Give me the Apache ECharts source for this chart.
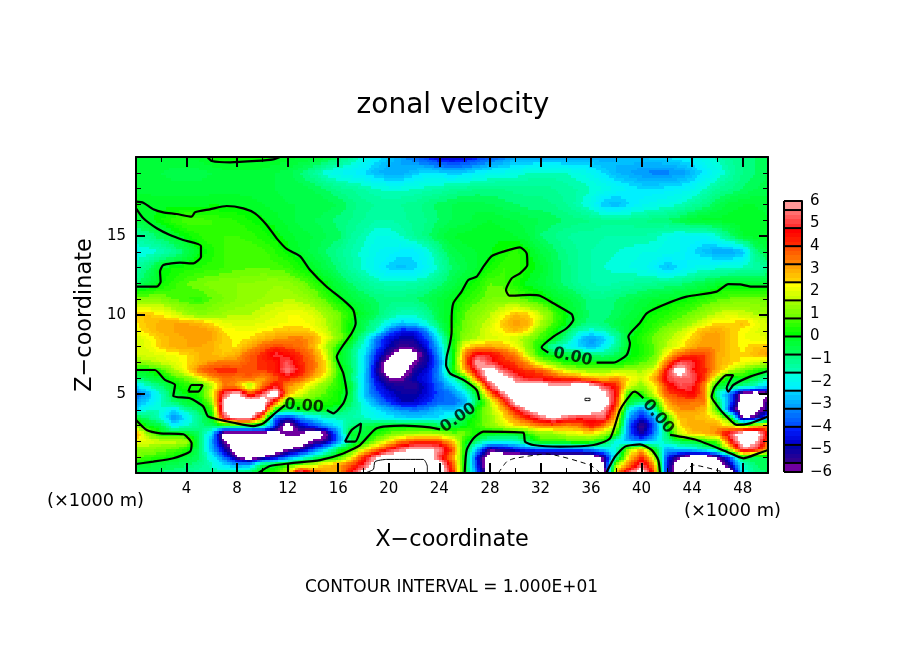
<!DOCTYPE html>
<html>
<head>
<meta charset="utf-8">
<style type="text/css">
html,body{margin:0;padding:0;background:#fff}
#main{width:904px;height:654px}
</style>
</head>
<body>
<div id="main"></div>
<script src="https://cdn.jsdelivr.net/npm/echarts@6/dist/echarts.min.js"></script>
<script type="text/javascript">
// x nodes every 1 km, z nodes listed top row first
var xNodes = [0,1,2,3,4,5,6,7,8,9,10,11,12,13,14,15,16,17,18,19,20,21,22,23,24,25,26,27,28,29,30,31,32,33,34,35,36,37,38,39,40,41,42,43,44,45,46,47,48,49,50];
var zNodes = [20,19,18,17,16,15,14,13,12,11,10,9.5,9,8.5,8,7.5,7,6.5,6,5.5,5,4.5,4,3.5,3,2.5,2,1.5,1,0.5,0];
// zonal velocity, one row per z node (+-7 = off the scale, drawn white)
var velocityRows = [
[-.2,-.2,-.2,-.2,-.2,-.1,.1,.2,.2,.2,.1,0,-.1,-.2,-.2,-.3,-.8,-1.2,-1.8,-2.2,-2.6,-3,-3.5,-4,-4.6,-4.8,-4.6,-4.2,-3.8,-3.4,-3,-3,-3,-3,-3,-3,-3,-3,-2.8,-2.6,-2.6,-2.5,-2.4,-2.2,-2,-1.8,-1.5,-1.2,-1,-.8,-.6],
[-.3,-.4,-.4,-.5,-.5,-.5,-.4,-.3,-.3,-.3,-.3,-.4,-.5,-.8,-1.2,-1.8,-2,-2.2,-2.4,-2.8,-3,-3,-2.6,-2.3,-2.4,-2.6,-2.5,-2.2,-2,-1.9,-1.8,-1.6,-1.5,-1.5,-1.6,-1.8,-2,-2.4,-2.8,-3,-3.2,-3.3,-3.3,-3.2,-2.8,-2.3,-1.9,-1.4,-1,-.8,-.6],
[-.3,-.3,-.3,-.3,-.3,-.3,-.3,-.3,-.3,-.3,-.3,-.4,-.5,-.5,-.6,-.8,-1.1,-1.2,-1.4,-1.6,-1.7,-1.7,-1.6,-1.5,-1.4,-1.2,-1.1,-1,-1,-1,-1.1,-1.1,-1.1,-1.2,-1.3,-1.4,-1.6,-1.8,-2,-2.2,-2.4,-2.4,-2.3,-2.2,-2,-1.6,-1.2,-1,-.8,-.6,-.5],
[.05,-.05,-.1,-.1,-.1,-.1,-.05,-.05,-.05,-.1,-.2,-.3,-.4,-.4,-.4,-.5,-.6,-.9,-1.1,-1.2,-1.3,-1.2,-1.1,-.9,-.7,-.6,-.5,-.5,-.6,-.7,-.8,-.9,-.9,-1,-1.2,-1.5,-1.9,-2.6,-2.8,-2.4,-2.1,-1.9,-1.8,-1.6,-1.3,-1,-.6,-.3,-.2,-.2,-.3],
[-.4,-.1,.2,.5,.8,.7,.6,.5,.4,.2,.05,-.1,-.3,-.5,-.6,-.7,-.9,-1,-1.2,-1.4,-1.4,-1.3,-1.1,-1,-.8,-.6,-.5,-.3,-.2,-.3,-.4,-.5,-.6,-.7,-.8,-.9,-1,-1.1,-1.1,-1.1,-1,-.9,-.8,-.5,-.2,-.1,-.1,-.1,-.1,-.1,-.15],
[-1.3,-1,-.6,-.2,.1,.4,.6,.6,.6,.5,.3,.1,-.1,-.3,-.4,-.6,-.7,-1.2,-1.5,-1.8,-1.8,-1.6,-1.2,-.9,-.5,-.2,-.1,-.05,-.05,-.1,-.2,-.4,-.8,-1,-1.2,-1.3,-1.3,-1.4,-1.4,-1.4,-1.4,-1.5,-1.8,-2,-2,-2.1,-1.6,-.8,-.2,-.1,-.1],
[-1.9,-1.8,-1.6,-1.2,-.6,0,.3,.6,.8,.8,.7,.4,.1,-.2,-.5,-.8,-1.1,-1.4,-1.7,-2,-2.1,-2.3,-2.3,-1.9,-1.1,-.5,-.3,-.2,-.05,.2,.5,.1,-.4,-.7,-1,-1.2,-1.4,-1.5,-1.6,-1.7,-1.8,-1.8,-1.9,-2,-2.4,-2.7,-3,-3.1,-2.7,-1,-.4],
[-1.4,-.8,0,.2,.3,.4,.5,.6,.7,.8,.8,.7,.6,.2,-.1,-.5,-.9,-1.3,-1.7,-2.1,-2.5,-2.7,-2.5,-2.1,-1.5,-.8,-.5,-.2,.2,.6,.6,.2,-.1,-.6,-.9,-1.2,-1.4,-1.6,-1.7,-1.8,-1.9,-2.2,-2.7,-2.4,-2,-1.8,-1.7,-1.6,-1.5,-1.4,-1.2],
[-.8,-.4,.1,.5,.8,1,1.1,1.2,1.2,1.2,1.3,1.4,1.3,1,.6,.1,-.4,-.8,-1.1,-1.4,-1.5,-1.5,-1.4,-1.2,-.9,-.5,-.1,.3,.8,.7,.3,-.1,-.3,-.6,-.9,-1.2,-1.4,-1.5,-1.4,-1.3,-1.2,-1.1,-1,-.9,-.7,-.5,-.2,-.1,-.1,-.2,-.2],
[1.2,1.2,1.1,.8,.6,.5,.8,1,1.2,1.3,1.4,1.5,1.6,1.5,1.2,.7,.1,-.3,-.6,-.8,-.9,-.9,-.8,-.6,-.3,-.05,.4,.7,1,1.1,1,.6,.3,-.05,-.3,-.6,-1,-1,-.8,-.6,-.4,-.2,-.15,.05,.2,.5,.7,.9,1.1,1,.9],
[2.6,2.6,2.4,2,1.5,1.2,1.3,1.5,1.6,1.6,1.8,2,2.2,2.2,2,1.5,1,.3,-.2,-.7,-1.2,-1.6,-1.6,-1.2,-.4,.05,.8,1.2,1.6,2.2,2.8,2.6,1.8,.8,.05,-.4,-.9,-.9,-.7,-.4,-.1,.2,.4,.7,1,1.4,1.8,2,1.8,1.6,1.4],
[2.4,2.7,2.9,3,3,2.8,2.4,2,1.9,1.9,2,2.1,2.2,2.3,2.1,1.6,.9,.1,-.6,-1.2,-2,-2.6,-2.4,-1.6,-.6,.2,.9,1.4,1.8,2.6,3.2,2.9,1.6,.7,.05,-.6,-1,-.8,-.5,-.2,.1,.4,.7,1,1.5,2,2.5,2.4,2.7,2.2,1.8],
[2.2,2.6,2.9,3,3.2,3.2,3,2.4,2.2,2.2,2.3,2.5,2.7,2.6,2.4,1.8,1,.1,-.6,-1.5,-3.4,-4.3,-4.3,-3.2,-1.2,.4,1,1.5,2,2.4,2.8,2.4,1,.3,-.5,-1.4,-1.8,-1.5,-.8,-.2,.2,.6,1.2,1.6,2.2,2.9,3,2.6,2.3,2,1.8],
[1.8,2.2,2.6,2.9,3,3.2,3,2.5,2.3,2.4,2.8,3.1,3.3,3.4,3.1,2.2,1.2,.2,-1.5,-3.4,-4.6,-5,-5,-4,-2,.05,1.2,1.6,1.9,2,1.8,1.2,.6,.05,-1,-2.4,-3.3,-2.6,-1.4,-.1,.4,.9,1.5,2,2.6,3.1,3.1,2.6,2.2,2.1,2],
[1.8,2.1,2.6,2.9,3,3,2.9,2.4,2.4,3,3.6,4.1,3.8,3.5,2.9,1.6,.3,-.6,-1.8,-3.6,-4.8,-5.6,-5.4,-4.4,-2.6,.05,2.4,3,3,2.8,2.2,1.2,.05,-1.5,-1.8,-2.4,-3,-2.2,-1.2,-.1,.3,.8,1.6,2.2,2.9,3.2,3.1,2.6,2.3,2.6,2.8],
[1.8,1.9,2,2.2,2.4,2.8,2.8,2.6,3,3.8,4.2,5,4.6,4.1,3.4,2,.05,-.8,-2.2,-4.2,-5.6,-7,-6.5,-5,-3,-.3,3.4,5,4.8,4,3.4,1.7,.3,-.05,-.3,-.5,-.8,-1,-.6,-.05,.3,.8,2.4,3.6,4.2,4,3,2.6,2.4,2.8,3.1],
[1.2,1.5,1.8,2,2.4,2.8,3.2,3.4,3.4,3.8,4.1,4.4,5.2,4.2,3.6,2.4,.05,-.7,-2.2,-4.6,-6.5,-7,-5.8,-5,-3.4,-.3,3.6,6,5,4.2,4,3,1.5,.8,.2,.1,.05,.05,-.05,.3,.7,1.2,3.4,5.2,5,4,3,2.6,2.3,2,1.6],
[.05,.05,.5,1.5,2.4,3.6,4.1,4.3,4.1,4,4,4.4,5.8,4.5,3.5,2.4,.6,-.6,-2.2,-5,-7,-7,-5.2,-4.6,-3.2,.05,3,5.2,7,5.2,4.4,4,3.8,2.8,1.8,1.4,1.2,1.2,1.4,1.5,1.5,2,4.6,7,4.8,4.2,3,1.8,1,.4,.1],
[-.8,-.4,-.1,.5,1,2,3,3.6,3.4,3.7,3,3.8,4.3,3.8,2.8,1.8,.4,-.7,-2.6,-4.6,-5.8,-5.8,-4.8,-4.4,-3.2,-1.6,.05,4,6.5,7,5.4,4.6,4.4,4.2,4,3.6,3,2.6,3.2,2.4,1.8,3,5,5.4,5.4,4,1.5,-.3,.2,-.5,-1.5],
[-2.4,-1.5,-.8,-.05,.4,.4,1.5,3.5,3,1.2,3.4,4.8,3.2,2.6,1.8,1,.4,-.2,-2.4,-4.2,-5,-5.2,-5.4,-4.6,-3.6,-2.6,-1.2,1.2,5.2,7,6.5,7,7,6,6,7,6.5,5.2,4.4,2,1.2,2.2,4.2,5.2,5,3.2,-.1,-.6,-1,-1.5,-2.6],
[-3.6,-2.8,-1.6,-.2,.05,.3,2,5.2,6.5,4,5.2,7,3,2,1.2,.7,.2,-.5,-2.6,-3.8,-4.6,-5,-5,-4.6,-3.8,-3.4,-2.4,-.05,3.2,5.6,7,7,7,7,7,7,7,6.5,4.5,.3,.4,2,3.8,4.2,4.8,3.4,-1.5,-3.5,-6.5,-7,-6],
[-3,-2.4,-1.6,-.8,-.2,-.05,1.2,6.5,7,7,7,4,.05,.5,.6,.4,.2,-.6,-2,-3.2,-4,-4.8,-4.8,-4.2,-3.6,-3.6,-3,-.5,1.5,3.8,6.5,7,7,7,7,7,7,7,4.2,-.2,-1,.05,3,3.6,3.4,3.4,-.3,-3.6,-7,-7,-5.4],
[-2.4,-1.6,-1.6,-2.4,-1.2,-.6,.4,6.5,7,7,6.5,.3,-.5,-.1,-.05,-.05,-.5,-1.1,-1.7,-2.2,-2.8,-3.2,-3.4,-3.2,-2.6,-2.8,-2,.4,1.4,2.8,4.5,6,7,7,7,7,7,6,3.6,-2,-3.6,-1.5,2.4,3.2,3.2,2.8,.6,-4.5,-7,-6.5,-5.2],
[-.3,-.9,-1.8,-3.4,-2.2,-1,.05,5.2,6.5,6.5,3,-3.8,-4.4,-3.2,-2.4,-1.6,-1.4,-1.4,-1.6,-2,-2.2,-2.4,-2.6,-2.4,-2.4,-1.6,-.3,.4,1.2,2.2,3.4,4.4,5.4,6.2,5.4,5,5,5.4,2.6,-3,-4.5,-3,.2,2.8,2.8,2.6,2.2,.4,-6.2,-5.5,-3.4],
[1,-.05,-.4,-2.2,-1.6,-1,-.7,-.3,-.1,-.1,-.6,-4.2,-7,-4.8,-4,-3,-2.2,-1,-.5,-.3,-.1,-.05,-.1,-.2,-.6,-.3,-.1,.6,1.2,1.8,2.4,2.8,3.4,3.6,3.2,3.4,4.6,3.4,1.8,-3.6,-5.8,-3.8,0,2.4,3,3,3,2.2,1,2.4,3.2],
[3,1.2,.05,-.05,-.05,-.8,-2.4,-7,-7,-7,-7,-6.5,-5.6,-5.8,-7,-6,-3.2,.05,-.4,.3,.9,1.2,1.4,1.6,1.4,1,1,.1,-.1,-.2,-.2,.3,1.2,1.2,1.8,2,2.2,1.6,.5,-3.6,-5.2,-3.4,-.8,1.8,2.6,2.8,3.4,5.2,7,7,4.6],
[2.2,2,1.8,1.8,1.6,-.6,-3,-6,-7,-7,-7,-7,-7,-7,-5.8,-5.4,-3.4,-.8,.05,1.2,2.2,3.4,3.8,4,3.8,2.8,.3,-.8,-1.6,-1.8,-1.6,-.5,.5,.6,.6,.8,.6,-.05,-2,-3,-3.4,-2.4,-1.2,-.4,-.2,.3,.8,4.4,7,6.5,3.6],
[1.2,1.2,1,.8,.3,-.7,-2.8,-4.8,-7,-7,-7,-7,-6,-5.4,-4,-2.4,-.4,.4,2,3.2,4.6,5.6,6.2,6.2,5.8,4,.05,-2.8,-5.5,-5,-4.4,-3.8,-3.5,-3.5,-3.5,-3.5,-3.2,-2.4,-1.8,1.4,2.8,.05,-3,-2.6,-2.2,-1.6,-.7,2,5.6,5,3],
[.9,.6,.4,.05,-.3,-.8,-2,-3.6,-5.8,-7,-6,-5,-3.6,-2.4,-1.2,-.2,.3,2,4.2,6,7,7,7,7,5,3.2,.05,-4.5,-7,-7,-7,-7,-7,-7,-7,-7,-7,-5.5,-1.5,2.4,4.4,1.6,-4,-5.8,-7,-7,-6,-3.6,-.2,-.6,-.6],
[-.3,-.3,-.5,-.6,-.8,-1,-1.6,-2.4,-3,-2.8,-.3,-.05,.6,1.2,1.8,2.6,3,3.8,5,7,7,7,7,7,7,4,.05,-4.4,-7,-7,-7,-7,-7,-7,-7,-7,-7,-6,1.4,3.4,5.4,3,-4.4,-7,-7,-7,-7,-5,-1.8,-.8,-.6],
[-.6,-.6,-.8,-1,-1.1,-1.4,-1.2,-1.4,-1.2,-.6,.1,.4,1.6,6,4,3,3,4.6,6.5,7,7,7,7,7,7,4.6,.05,-3.6,-7,-7,-7,-7,-7,-7,-7,-7,-7,-7,3,5.5,7,4,-4.6,-7,-7,-7,-7,-7,-2,-1,-.8]
];

// zero contour as [x, z] in km
var zeroLines = [
[[0,17.17],[.58,17.11],[1.37,16.69],[2.16,16.5],[3.22,16.39],[4.4,16.22],[4.67,16.5],[5.85,16.69],[7.17,16.9],[8.49,16.75],[9.41,16.43],[10.34,15.7],[11.13,14.85],[11.92,14.18],[12.97,13.73],[13.77,12.85],[15.08,11.79],[16.4,10.95],[17.19,10.32],[17.38,9.47],[17.06,8.84],[16.4,8.1],[15.88,7.36],[16.4,6.31],[16.67,5.04],[16.4,4.41],[15.61,3.78],[15.1,3.99]],
[[11.79,4.3],[11,3.78],[10.07,3.14],[9.28,2.97],[7.96,3.14],[5.72,3.57],[5.33,4.2],[4.27,4.73],[2.95,4.87],[3.09,5.57],[2.29,5.89],[1.5,6.52],[0,6.52]],
[[0,16.75],[.58,16.12],[1.64,15.49],[2.69,15.06],[3.74,14.75],[5.14,14.37],[5.14,13.69],[4.54,13.27],[3.48,13.31],[2.16,13.16],[1.9,12.74],[1.95,12.11],[1.64,11.79],[0,11.79]],
[[5.65,20],[5.99,19.75],[7.44,19.66],[9.55,19.75],[10.86,19.85],[11.39,20]],
[[4.14,5.15],[4.4,5.57],[5.27,5.57],[4.93,5.15],[4.14,5.15]],
[[0,3.35],[.84,2.72],[1.9,2.51],[3.74,2.45],[4.4,1.88],[4.27,1.35],[2.95,.93],[1.37,.72],[0,.57]],
[[16.53,1.98],[17.06,2.72],[17.8,3.14],[17.72,2.62],[17.33,1.98],[16.53,1.98]],
[[9.68,0],[10.6,.44],[12.18,.61],[14.56,.82],[16.4,1.24],[17.72,1.77],[19.04,2.83],[21.15,3],[23.26,2.89],[24.05,2.76]],
[[27.16,4.62],[26.95,5.25],[25.9,5.89],[24.84,6.31],[24.53,6.84],[24.58,7.36],[24.84,8.21],[24.97,8.95],[24.97,9.68],[25.1,10.74],[25.76,11.48],[26.29,12.22],[26.95,12.43],[27.48,13.06],[28.14,13.73],[29.06,14.01],[30.38,14.28],[30.91,13.9],[30.96,13.16],[30.38,12.64],[29.72,12.32],[29.27,11.58],[29.53,11.22],[31.17,11.27],[31.96,11.22],[33.02,10.74],[34.47,10.05],[34.6,9.7],[34.07,9.16],[33.02,8.63],[32.09,7.95],[32.62,7.62]],
[[36.44,6.98],[37.76,6.98],[38.82,7.47],[39.08,8.21],[38.95,8.63],[39.87,9.5],[40.4,10.1],[41.72,10.63],[43.56,11.16],[45.94,11.48],[46.86,11.96],[47.79,11.94],[48.71,11.79],[50,11.79]],
[[26,0],[26.16,1.46],[26.69,2.19],[27.48,2.62],[30.64,2.55],[30.78,1.98],[31.44,1.77],[33.55,1.67],[36.2,1.77],[37.5,2.19],[38.29,3.99],[39.21,5.04],[39.48,5.15],[40.14,4.73]],
[[42.25,2.41],[44.36,2.09],[46.73,1.35],[48.05,.93],[49.24,1.24],[50,1.46]],
[[37.2,0],[37.9,1.03],[38.69,1.67],[39.87,1.81],[40.79,1.46],[41.32,.82],[41.45,0]],
[[50,6.46],[48.58,6.1],[47.25,5.57],[46.86,5.15],[46.73,5.36],[47.25,6.2],[46.73,6.2],[45.81,5.46],[45.54,4.83],[45.94,4.3],[46.6,3.67],[47.52,3.04],[48.58,3.14],[50,3.57]]
];
// thin contours at the +60 and -60 levels
var highLines = [
[[18.12,0],[18.78,.23],[18.91,.72],[19.83,.86],[22.73,.86],[23.05,.4],[23.05,0]],
[[35.52,4.73],[35.92,4.73],[35.92,4.58],[35.52,4.58],[35.52,4.73]]
];
var lowLines = [
[[28.67,0],[29.33,.72],[29.98,.93],[32.49,1.2],[35.92,.5],[36.71,0]],
[[43.3,0],[44.1,.5],[46.73,0]]
];
var labelX = [13.3, 25.5, 34.55, 41.3];
var labelZ = [4.24, 3.48, 7.34, 3.57];
var labelAngle = [-5, 35, -12, -50];

var colorbarTicks = [-6,-5,-4,-3,-2,-1,0,1,2,3,4,5,6];
var colorbarEdges = [-6,-5.6,-4.8,-4,-3.2,-2.4,-1.6,-.8,0,.8,1.6,2.4,3.2,4,4.8,5.6,6];
// first and last shade of each band, from -6 upward
var bandColors = [
['#7000a0','#7000a0'],['#300090','#0000a8'],['#0000d0','#0020ff'],['#0050ff','#0080ff'],
['#00a0ff','#00d0ff'],['#00f0ff','#00ffe0'],['#00ffb0','#00ff80'],['#00ff58','#00ff28'],
['#00ff00','#40ff00'],['#70ff00','#a0ff00'],['#c8ff00','#ffff00'],['#ffd000','#ffa000'],
['#ff8000','#ff5000'],['#ff2800','#ff0000'],['#ff3030','#ff7070'],['#ff9898','#ff9898']
];

function hexToRgb(h){
    return [parseInt(h.substr(1,2),16),parseInt(h.substr(3,2),16),parseInt(h.substr(5,2),16)];
}
// 4 flat shades inside every band, white beyond the scale
function colorOf(v){
    if (v <= -6 || v >= 6) return '#ffffff';
    var b = 0;
    while (v >= colorbarEdges[b+1]) b++;
    var f = (v-colorbarEdges[b])/(colorbarEdges[b+1]-colorbarEdges[b]);
    var step = Math.min(3,Math.floor(f*4))/3;
    var lo = hexToRgb(bandColors[b][0]), hi = hexToRgb(bandColors[b][1]);
    return 'rgb('+Math.round(lo[0]+(hi[0]-lo[0])*step)+','+Math.round(lo[1]+(hi[1]-lo[1])*step)+','+Math.round(lo[2]+(hi[2]-lo[2])*step)+')';
}

// one item per grid cell: its corners and the four values there
var cells = [];
for (var r=0;r<zNodes.length-1;r++){
    for (var c=0;c<xNodes.length-1;c++){
        cells.push([xNodes[c],zNodes[r+1],xNodes[c+1],zNodes[r],
            velocityRows[r+1][c],velocityRows[r+1][c+1],velocityRows[r][c],velocityRows[r][c+1]]);
    }
}
// shade a cell in small pixel blocks between its corner values
function renderCell(params,api){
    var p0 = api.coord([api.value(0),api.value(1)]);
    var p1 = api.coord([api.value(2),api.value(3)]);
    var vbl=api.value(4),vbr=api.value(5),vtl=api.value(6),vtr=api.value(7);
    var nx = Math.max(1,Math.round((p1[0]-p0[0])/2.5));
    var ny = Math.max(1,Math.round((p0[1]-p1[1])/2.5));
    var kids = [];
    for (var i=0;i<nx;i++){
        var xa=Math.round(p0[0]+(p1[0]-p0[0])*i/nx), xb=Math.round(p0[0]+(p1[0]-p0[0])*(i+1)/nx);
        var tx=(i+.5)/nx;
        for (var j=0;j<ny;j++){
            var ya=Math.round(p1[1]+(p0[1]-p1[1])*j/ny), yb=Math.round(p1[1]+(p0[1]-p1[1])*(j+1)/ny);
            var ty=(j+.5)/ny;
            var v=(vtl*(1-tx)+vtr*tx)*(1-ty)+(vbl*(1-tx)+vbr*tx)*ty;
            kids.push({type:'rect',shape:{x:xa,y:ya,width:xb-xa,height:yb-ya},style:{fill:colorOf(v)}});
        }
    }
    return {type:'group',children:kids};
}

var fieldFont = 'DejaVu Sans';
var series = [{
    type:'custom',
    renderItem:renderCell,
    data:cells,
    encode:{x:[0,2],y:[1,3]},
    xAxisIndex:0,yAxisIndex:0,
    silent:true,
    progressive:0,
    z:1
}];
function addLines(list,width,dash){
    list.forEach(function(line){
        series.push({
            type:'line',data:line,xAxisIndex:0,yAxisIndex:0,
            symbol:'none',silent:true,z:3,smooth:0.2,
            lineStyle:{color:'#000',width:width,type:dash}
        });
    });
}
addLines(zeroLines,2.2,'solid');
addLines(highLines,1,'solid');
addLines(lowLines,1,[5,4]);

series.push({
    type:'scatter',xAxisIndex:0,yAxisIndex:0,silent:true,z:4,
    symbolSize:1,itemStyle:{color:'rgba(0,0,0,0)'},
    data:labelX.map(function(x,i){
        return {value:[x,labelZ[i]],label:{show:true,position:'inside',formatter:'0.00',rotate:labelAngle[i],
            color:'#000',fontFamily:fieldFont,fontSize:16,fontWeight:'bold'}};
    })
});

// colorbar bands and the black lines between them
var barCells = [];
for (var b=0;b<bandColors.length;b++){
    for (var s=0;s<4;s++){
        var lo=colorbarEdges[b], hi=colorbarEdges[b+1];
        barCells.push([lo+(hi-lo)*s/4,lo+(hi-lo)*(s+1)/4]);
    }
}
series.push({
    type:'custom',xAxisIndex:2,yAxisIndex:2,silent:true,z:1,
    data:barCells,encode:{y:[0,1]},
    renderItem:function(params,api){
        var lo=api.value(0),hi=api.value(1);
        var a=api.coord([0,hi]),d=api.coord([1,lo]);
        return {type:'rect',shape:{x:a[0],y:Math.round(a[1]),width:d[0]-a[0],height:Math.round(d[1])-Math.round(a[1])},
            style:{fill:colorOf((lo+hi)/2)}};
    }
});
series.push({
    type:'custom',xAxisIndex:2,yAxisIndex:2,silent:true,z:2,
    data:colorbarEdges.map(function(e){return [e];}),encode:{y:0},
    renderItem:function(params,api){
        var a=api.coord([0,api.value(0)]),d=api.coord([1,api.value(0)]);
        return {type:'line',shape:{x1:a[0],y1:a[1],x2:d[0],y2:d[1]},style:{stroke:'#000',lineWidth:2}};
    }
});

var chart = echarts.init(document.getElementById('main'),null,{renderer:'canvas'});
var blackLine = {show:true,onZero:false,lineStyle:{color:'#000',width:2}};
option = {
    animation:false,
    backgroundColor:'#fff',
    title:{text:'zonal velocity',left:448,top:87,textAlign:'center',
        textStyle:{fontFamily:fieldFont,fontSize:28,fontWeight:'normal',color:'#000'}},
    grid:[
        {left:136,top:157,width:632,height:316},
        {left:784,top:201,width:18,height:271}
    ],
    xAxis:[
        {type:'value',gridIndex:0,min:0,max:50,interval:4,position:'bottom',z:6,
            axisLine:blackLine,splitLine:{show:false},
            axisTick:{inside:true,length:10,lineStyle:{color:'#000',width:2}},
            minorTick:{show:true,splitNumber:2,length:5,lineStyle:{color:'#000',width:1}},
            axisLabel:{margin:9,color:'#000',fontFamily:fieldFont,fontSize:15,
                formatter:function(v){return (v>0&&v<50)?String(v):'';}},
            name:'X\u2212coordinate',nameLocation:'middle',nameGap:56,
            nameTextStyle:{fontFamily:fieldFont,fontSize:22.4,color:'#000'}},
        {type:'value',gridIndex:0,min:0,max:50,interval:4,position:'top',z:6,
            axisLine:blackLine,splitLine:{show:false},axisLabel:{show:false},
            axisTick:{inside:true,length:10,lineStyle:{color:'#000',width:2}},
            minorTick:{show:true,splitNumber:2,length:5,lineStyle:{color:'#000',width:1}}},
        {type:'value',gridIndex:1,min:0,max:1,show:false}
    ],
    yAxis:[
        {type:'value',gridIndex:0,min:0,max:20,interval:5,position:'left',z:6,
            axisLine:blackLine,splitLine:{show:false},
            axisTick:{inside:true,length:9,lineStyle:{color:'#000',width:2}},
            minorTick:{show:true,splitNumber:5,length:5,lineStyle:{color:'#000',width:1}},
            axisLabel:{margin:10,color:'#000',fontFamily:fieldFont,fontSize:15,
                formatter:function(v){return (v>0&&v<20)?String(v):'';}},
            name:'Z\u2212coordinate',nameLocation:'middle',nameGap:40,
            nameTextStyle:{fontFamily:fieldFont,fontSize:22.4,color:'#000'}},
        {type:'value',gridIndex:0,min:0,max:20,interval:5,position:'right',z:6,
            axisLine:blackLine,splitLine:{show:false},axisLabel:{show:false},
            axisTick:{inside:true,length:9,lineStyle:{color:'#000',width:2}},
            minorTick:{show:true,splitNumber:5,length:5,lineStyle:{color:'#000',width:1}}},
        {type:'value',gridIndex:1,min:-6,max:6,interval:1,position:'right',z:6,
            axisLine:{show:true,onZero:false,lineStyle:{color:'#000',width:2}},
            axisTick:{show:false},splitLine:{show:false},
            axisLabel:{margin:8,color:'#000',fontFamily:fieldFont,fontSize:15,
                formatter:function(v){return colorbarTicks.indexOf(v)<0?'':String(v).replace('-','\u2212');}}}
    ],
    graphic:[
        {type:'text',left:47,top:492,style:{text:'(\u00d71000 m)',fontFamily:fieldFont,fontSize:17.8,fill:'#000'}},
        {type:'text',left:684,top:502,style:{text:'(\u00d71000 m)',fontFamily:fieldFont,fontSize:17.8,fill:'#000'}},
        {type:'text',left:305,top:579,style:{text:'CONTOUR INTERVAL = 1.000E+01',fontFamily:fieldFont,fontSize:17,fill:'#000'}},
        {type:'line',shape:{x1:784,y1:201,x2:784,y2:472},style:{stroke:'#000',lineWidth:2},z:5}
    ],
    series:series
};
chart.setOption(option,true);
</script>
</body>
</html>
